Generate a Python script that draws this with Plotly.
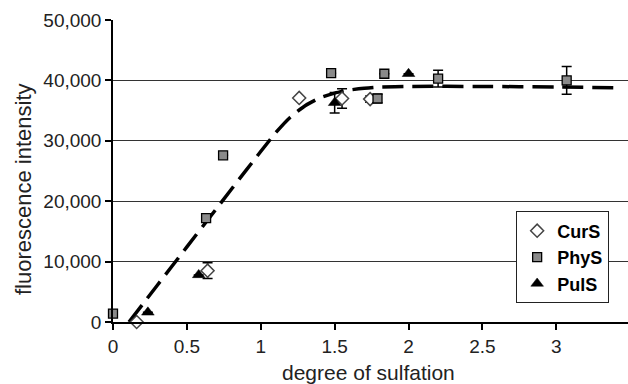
import plotly.graph_objects as go

# ---- data ----
curs_x = [0.16, 0.64, 1.26, 1.55, 1.74]
curs_y = [0, 8500, 37100, 37000, 36900]
curs_err = [0, 1300, 0, 1600, 500]

phys_x = [0.0, 0.63, 0.745, 1.476, 1.79, 1.836, 2.20, 3.07]
phys_y = [1400, 17200, 27600, 41200, 37000, 41100, 40300, 40000]
phys_err = [0, 0, 0, 0, 700, 0, 1400, 2300]
phys_xerr = [0.025, 0.0, 0.025, 0.025, 0.0, 0.025, 0.0, 0.0]

puls_x = [0.236, 0.58, 1.50, 2.00]
puls_y = [1600, 7800, 36300, 41100]
puls_err = [0, 0, 1700, 0]

fit_x = [0.108, 0.3, 0.5, 0.7, 0.9, 1.1, 1.2, 1.3, 1.4, 1.5, 1.6, 1.7, 1.8, 2.0, 2.5, 3.0, 3.4]
fit_y = [0, 6090, 12430, 18770, 25100, 31300, 33900, 35800, 37100, 37900, 38400, 38700, 38900, 39000, 39000, 38900, 38800]

x_ticks = [0, 0.5, 1, 1.5, 2, 2.5, 3]
x_ticklabels = ["0", "0.5", "1", "1.5", "2", "2.5", "3"]
y_ticks = [0, 10000, 20000, 30000, 40000, 50000]
y_ticklabels = ["0", "10,000", "20,000", "30,000", "40,000", "50,000"]

FONT = "Liberation Sans, Arial, sans-serif"

fig = go.Figure()

fig.add_trace(go.Scatter(
    x=fit_x, y=fit_y, mode="lines", showlegend=False, hoverinfo="skip",
    line=dict(color="black", width=3.5, dash="21px,9px", shape="spline", smoothing=0.6),
    cliponaxis=False,
))

fig.add_trace(go.Scatter(
    x=curs_x, y=curs_y, mode="markers", name="CurS",
    marker=dict(symbol="diamond", size=10, color="white", line=dict(color="#444", width=1.5)),
    error_y=dict(type="data", array=curs_err, color="black", thickness=1.5, width=5),
    cliponaxis=False,
))

fig.add_trace(go.Scatter(
    x=phys_x, y=phys_y, mode="markers", name="PhyS",
    marker=dict(symbol="square", size=9, color="#8a8a8a", line=dict(color="black", width=1.3)),
    error_y=dict(type="data", array=phys_err, color="black", thickness=1.5, width=5),
    error_x=dict(type="data", array=phys_xerr, color="black", thickness=1.5, width=2),
    cliponaxis=False,
))

fig.add_trace(go.Scatter(
    x=puls_x, y=puls_y, mode="markers", name="PulS",
    marker=dict(symbol="triangle-up", size=11, color="black", line=dict(color="black", width=0.5)),
    error_y=dict(type="data", array=puls_err, color="black", thickness=1.5, width=5),
    cliponaxis=False,
))

fig.update_layout(
    width=628, height=384,
    margin=dict(l=113, r=0, t=20, b=62),
    paper_bgcolor="white", plot_bgcolor="white",
    font=dict(family=FONT, color="#222", size=19),
    xaxis=dict(
        range=[0, 3.485], tickvals=x_ticks, ticktext=x_ticklabels,
        showgrid=False, zeroline=False, showline=True, linecolor="black", linewidth=1.5,
        ticks="outside", ticklen=6, tickwidth=1.5, tickcolor="black",
        tickfont=dict(size=19, family=FONT, color="#222"),
    ),
    yaxis=dict(
        range=[0, 50000], tickvals=y_ticks, ticktext=y_ticklabels,
        showgrid=True, gridcolor="#333", gridwidth=1, zeroline=False,
        showline=True, linecolor="black", linewidth=1.5,
        ticks="outside", ticklen=6, tickwidth=1.5, tickcolor="black",
        tickfont=dict(size=19, family=FONT, color="#222"),
    ),
    legend=dict(
        x=0.963, xanchor="right", y=0.062, yanchor="bottom",
        bgcolor="white", bordercolor="#222", borderwidth=1.2,
        font=dict(family=FONT, size=18, color="black", weight="bold"),
        itemwidth=30, tracegroupgap=0,
    ),
    annotations=[
        dict(text="degree of sulfation", xref="paper", yref="paper",
             x=0.497, y=-0.122, xanchor="center", yanchor="top", showarrow=False,
             font=dict(family=FONT, size=21, color="#222")),
        dict(text="fluorescence intensity", xref="paper", yref="paper",
             x=-0.175, y=0.44, xanchor="center", yanchor="middle", showarrow=False,
             textangle=-90, font=dict(family=FONT, size=22, color="#222")),
    ],
)

fig.write_html("out.html")
